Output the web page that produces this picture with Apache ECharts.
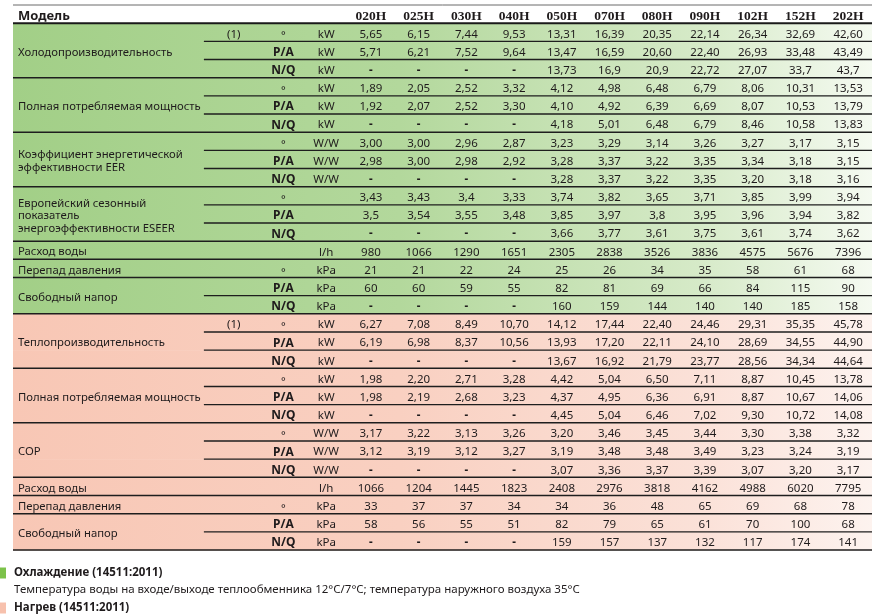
<!DOCTYPE html>
<html>
<head>
<meta charset="utf-8">
<script src="https://cdn.jsdelivr.net/npm/echarts@6/dist/echarts.min.js"></script>
<style>
  html, body { margin: 0; padding: 0; background: #fff; }
  #chart { width: 872px; height: 614px; }
</style>
</head>
<body>
<div id="chart"></div>
<script>
const models = ['020H', '025H', '030H', '040H', '050H', '070H', '080H', '090H', '102H', '152H', '202H'];

// Охлаждение
const coolCapStd = ['5,65', '6,15', '7,44', '9,53', '13,31', '16,39', '20,35', '22,14', '26,34', '32,69', '42,60'];
const coolCapPA = ['5,71', '6,21', '7,52', '9,64', '13,47', '16,59', '20,60', '22,40', '26,93', '33,48', '43,49'];
const coolCapNQ = ['-', '-', '-', '-', '13,73', '16,9', '20,9', '22,72', '27,07', '33,7', '43,7'];
const coolPowStd = ['1,89', '2,05', '2,52', '3,32', '4,12', '4,98', '6,48', '6,79', '8,06', '10,31', '13,53'];
const coolPowPA = ['1,92', '2,07', '2,52', '3,30', '4,10', '4,92', '6,39', '6,69', '8,07', '10,53', '13,79'];
const coolPowNQ = ['-', '-', '-', '-', '4,18', '5,01', '6,48', '6,79', '8,46', '10,58', '13,83'];
const eerStd = ['3,00', '3,00', '2,96', '2,87', '3,23', '3,29', '3,14', '3,26', '3,27', '3,17', '3,15'];
const eerPA = ['2,98', '3,00', '2,98', '2,92', '3,28', '3,37', '3,22', '3,35', '3,34', '3,18', '3,15'];
const eerNQ = ['-', '-', '-', '-', '3,28', '3,37', '3,22', '3,35', '3,20', '3,18', '3,16'];
const eseerStd = ['3,43', '3,43', '3,4', '3,33', '3,74', '3,82', '3,65', '3,71', '3,85', '3,99', '3,94'];
const eseerPA = ['3,5', '3,54', '3,55', '3,48', '3,85', '3,97', '3,8', '3,95', '3,96', '3,94', '3,82'];
const eseerNQ = ['-', '-', '-', '-', '3,66', '3,77', '3,61', '3,75', '3,61', '3,74', '3,62'];
const coolFlow = ['980', '1066', '1290', '1651', '2305', '2838', '3526', '3836', '4575', '5676', '7396'];
const coolDrop = ['21', '21', '22', '24', '25', '26', '34', '35', '58', '61', '68'];
const coolHeadPA = ['60', '60', '59', '55', '82', '81', '69', '66', '84', '115', '90'];
const coolHeadNQ = ['-', '-', '-', '-', '160', '159', '144', '140', '140', '185', '158'];

// Нагрев
const heatCapStd = ['6,27', '7,08', '8,49', '10,70', '14,12', '17,44', '22,40', '24,46', '29,31', '35,35', '45,78'];
const heatCapPA = ['6,19', '6,98', '8,37', '10,56', '13,93', '17,20', '22,11', '24,10', '28,69', '34,55', '44,90'];
const heatCapNQ = ['-', '-', '-', '-', '13,67', '16,92', '21,79', '23,77', '28,56', '34,34', '44,64'];
const heatPowStd = ['1,98', '2,20', '2,71', '3,28', '4,42', '5,04', '6,50', '7,11', '8,87', '10,45', '13,78'];
const heatPowPA = ['1,98', '2,19', '2,68', '3,23', '4,37', '4,95', '6,36', '6,91', '8,87', '10,67', '14,06'];
const heatPowNQ = ['-', '-', '-', '-', '4,45', '5,04', '6,46', '7,02', '9,30', '10,72', '14,08'];
const copStd = ['3,17', '3,22', '3,13', '3,26', '3,20', '3,46', '3,45', '3,44', '3,30', '3,38', '3,32'];
const copPA = ['3,12', '3,19', '3,12', '3,27', '3,19', '3,48', '3,48', '3,49', '3,23', '3,24', '3,19'];
const copNQ = ['-', '-', '-', '-', '3,07', '3,36', '3,37', '3,39', '3,07', '3,20', '3,17'];
const heatFlow = ['1066', '1204', '1445', '1823', '2408', '2976', '3818', '4162', '4988', '6020', '7795'];
const heatDrop = ['33', '37', '37', '34', '34', '36', '48', '65', '69', '68', '78'];
const heatHeadPA = ['58', '56', '55', '51', '82', '79', '65', '61', '70', '100', '68'];
const heatHeadNQ = ['-', '-', '-', '-', '159', '157', '137', '132', '117', '174', '141'];

const coolName = 'Охлаждение (14511:2011)';
const heatName = 'Нагрев (14511:2011)';
const coolNote = 'Температура воды на входе/выходе теплообменника 12°C/7°C; температура наружного воздуха 35°C';

const rows = [
  { sec: 'cool', label: 'Холодопроизводительность', span: 3, note: '(1)', mode: '°', unit: 'kW', values: coolCapStd },
  { sec: 'cool', mode: 'P/A', unit: 'kW', values: coolCapPA },
  { sec: 'cool', mode: 'N/Q', unit: 'kW', values: coolCapNQ },
  { sec: 'cool', label: 'Полная потребляемая мощность', span: 3, mode: '°', unit: 'kW', values: coolPowStd },
  { sec: 'cool', mode: 'P/A', unit: 'kW', values: coolPowPA },
  { sec: 'cool', mode: 'N/Q', unit: 'kW', values: coolPowNQ },
  { sec: 'cool', label: 'Коэффициент энергетической\nэффективности EER', span: 3, mode: '°', unit: 'W/W', values: eerStd },
  { sec: 'cool', mode: 'P/A', unit: 'W/W', values: eerPA },
  { sec: 'cool', mode: 'N/Q', unit: 'W/W', values: eerNQ },
  { sec: 'cool', label: 'Европейский сезонный\nпоказатель\nэнергоэффективности ESEER', span: 3, mode: '°', values: eseerStd },
  { sec: 'cool', mode: 'P/A', values: eseerPA },
  { sec: 'cool', mode: 'N/Q', values: eseerNQ },
  { sec: 'cool', label: 'Расход воды', unit: 'l/h', values: coolFlow },
  { sec: 'cool', label: 'Перепад давления', mode: '°', unit: 'kPa', values: coolDrop },
  { sec: 'cool', label: 'Свободный напор', span: 2, mode: 'P/A', unit: 'kPa', values: coolHeadPA },
  { sec: 'cool', mode: 'N/Q', unit: 'kPa', values: coolHeadNQ },
  { sec: 'heat', label: 'Теплопроизводительность', span: 3, note: '(1)', mode: '°', unit: 'kW', values: heatCapStd },
  { sec: 'heat', mode: 'P/A', unit: 'kW', values: heatCapPA },
  { sec: 'heat', mode: 'N/Q', unit: 'kW', values: heatCapNQ },
  { sec: 'heat', label: 'Полная потребляемая мощность', span: 3, mode: '°', unit: 'kW', values: heatPowStd },
  { sec: 'heat', mode: 'P/A', unit: 'kW', values: heatPowPA },
  { sec: 'heat', mode: 'N/Q', unit: 'kW', values: heatPowNQ },
  { sec: 'heat', label: 'COP', span: 3, mode: '°', unit: 'W/W', values: copStd },
  { sec: 'heat', mode: 'P/A', unit: 'W/W', values: copPA },
  { sec: 'heat', mode: 'N/Q', unit: 'W/W', values: copNQ },
  { sec: 'heat', label: 'Расход воды', unit: 'l/h', values: heatFlow },
  { sec: 'heat', label: 'Перепад давления', mode: '°', unit: 'kPa', values: heatDrop },
  { sec: 'heat', label: 'Свободный напор', span: 2, mode: 'P/A', unit: 'kPa', values: heatHeadPA },
  { sec: 'heat', mode: 'N/Q', unit: 'kPa', values: heatHeadNQ },
];

const colSlots = ['lab1', 'lab2', 'lab3', 'lab4', 'note', 'mode', 'unit', ...models];
const rowSlots = ['head', ...rows.map((r, k) => 'r' + (k + 1))];
const FIRST_VALUE_COL = 7;

// cells of text
const cells = [{ col: 0, row: 0, text: 'Модель', kind: 'head' }];
models.forEach((m, i) => cells.push({ col: FIRST_VALUE_COL + i, row: 0, text: m, kind: 'model' }));
rows.forEach((r, k) => {
  const row = k + 1;
  if (r.label) cells.push({ col: 0, row, span: r.span || 1, text: r.label, kind: 'label' });
  if (r.note) cells.push({ col: 4, row, text: r.note, kind: 'note' });
  if (r.mode) cells.push({ col: 5, row, text: r.mode, kind: r.mode === '°' ? 'deg' : 'mode' });
  if (r.unit) cells.push({ col: 6, row, text: r.unit, kind: 'unit' });
  r.values.forEach((v, i) => cells.push({ col: FIRST_VALUE_COL + i, row, text: v, kind: v === '-' ? 'dash' : 'value' }));
});

// row separators
const rules = [{ row: 0, edge: -1, full: true, w: 1, color: '#6b6b6b' }, { row: 0, edge: 1, full: true, w: 2, color: '#1a1a1a' }];
rows.forEach((r, k) => {
  const next = rows[k + 1];
  const end = !next || !!next.label;
  rules.push({ row: k + 1, edge: 1, full: end, w: end ? 1.5 : 1.3, color: '#1e1e1e' });
});

const FONT = 'Noto Sans';
const INK = '#1f1b1c';
const textStyles = {
  head: { fontSize: 13, fontWeight: 'bold', align: 'left', dx: 5 },
  model: { fontSize: 13.5, fontWeight: 'bold', fontFamily: 'Liberation Serif' },
  label: { fontSize: 11.3, align: 'left', dx: 5, lineHeight: 12.5 },
  note: { fontSize: 11.5, dx: 6 },
  deg: { fontSize: 11, dx: 8, dy: 2 },
  mode: { fontSize: 12, fontWeight: 'bold', dx: 8 },
  unit: { fontSize: 11.5, dx: 3 },
  value: { fontSize: 11.5 },
  dash: { fontSize: 11.5, fontWeight: 'bold' },
};

const coolFill = new echarts.graphic.LinearGradient(0, 0, 1, 0, [
  { offset: 0, color: '#a2cf87' },
  { offset: 0.45, color: '#b3d89c' },
  { offset: 0.8, color: '#d6eac8' },
  { offset: 1, color: '#f5faf1' },
]);
const heatFill = new echarts.graphic.LinearGradient(0, 0, 1, 0, [
  { offset: 0, color: '#f8c7b5' },
  { offset: 0.45, color: '#f9d0c1' },
  { offset: 0.8, color: '#fbe1d8' },
  { offset: 1, color: '#fdf3ef' },
]);

const bandRenderer = (fill) => (params, api) => {
  const cs = params.coordSys;
  const y = api.coord([0, api.value(1)])[1];
  const h = api.size([0, 1])[1];
  return {
    type: 'rect',
    shape: { x: cs.x, y: y - h / 2, width: cs.width, height: h + 0.6 },
    style: { fill },
  };
};

const legendBase = {
  left: 0,
  padding: 0,
  icon: 'rect',
  itemWidth: 6,
  itemHeight: 11,
  selectedMode: false,
  textStyle: { fontFamily: FONT, fontWeight: 'bold', fontSize: 11.5, color: INK, padding: [0, 0, 0, 3] },
};

const chart = echarts.init(document.getElementById('chart'));

const option = {
  animation: false,
  grid: { left: 13, right: 0, top: 5, height: 545 },
  xAxis: { type: 'category', data: colSlots, show: false },
  yAxis: { type: 'category', data: rowSlots, inverse: true, show: false },
  legend: [
    { ...legendBase, top: 567, data: [coolName] },
    { ...legendBase, top: 602, data: [heatName] },
  ],
  graphic: [
    {
      type: 'text',
      left: 14,
      top: 584,
      style: { text: coolNote, fontFamily: FONT, fontSize: 11.5, fill: INK },
    },
  ],
  series: [
    {
      name: coolName,
      type: 'custom',
      itemStyle: { color: '#7cc24a' },
      renderItem: bandRenderer(coolFill),
      data: rows.map((r, k) => [0, k + 1]).filter((d) => rows[d[1] - 1].sec === 'cool'),
      z: 1,
    },
    {
      name: heatName,
      type: 'custom',
      itemStyle: { color: '#f7c1ad' },
      renderItem: bandRenderer(heatFill),
      data: rows.map((r, k) => [0, k + 1]).filter((d) => rows[d[1] - 1].sec === 'heat'),
      z: 1,
    },
    {
      name: 'rules',
      type: 'custom',
      renderItem: (params, api) => {
        const r = rules[params.dataIndex];
        const cs = params.coordSys;
        const y = api.coord([0, r.row])[1] + r.edge * api.size([0, 1])[1] / 2;
        const x1 = r.full ? cs.x : api.coord([4, r.row])[0] - api.size([1, 0])[0] / 2;
        return {
          type: 'line',
          shape: { x1, y1: y, x2: cs.x + cs.width, y2: y },
          style: { stroke: r.color, lineWidth: r.w },
        };
      },
      data: rules.map((r) => [0, r.row]),
      z: 2,
    },
    {
      name: 'cells',
      type: 'custom',
      renderItem: (params, api) => {
        const c = cells[params.dataIndex];
        const s = textStyles[c.kind];
        const cs = params.coordSys;
        const p = api.coord([c.col, c.row]);
        let y = p[1];
        if (c.span > 1) y = (y + api.coord([c.col, c.row + c.span - 1])[1]) / 2;
        const x = s.align === 'left' ? cs.x + s.dx : p[0] + (s.dx || 0);
        return {
          type: 'text',
          x,
          y: y + 2 + (s.dy || 0),
          style: {
            text: c.text,
            fill: INK,
            fontFamily: s.fontFamily || FONT,
            fontSize: s.fontSize,
            fontWeight: s.fontWeight || 'normal',
            lineHeight: s.lineHeight,
            align: s.align || 'center',
            verticalAlign: 'middle',
          },
        };
      },
      data: cells.map((c) => [c.col, c.row]),
      z: 3,
    },
  ],
};

chart.setOption(option);
</script>
</body>
</html>
